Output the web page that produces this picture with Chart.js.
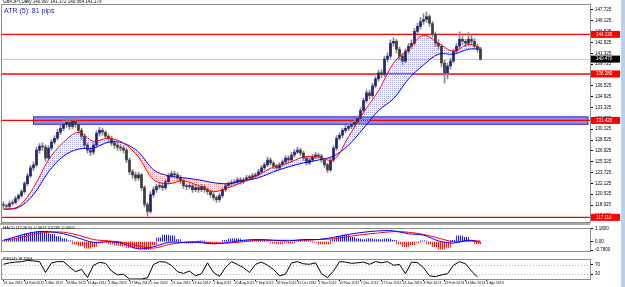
<!DOCTYPE html>
<html><head><meta charset="utf-8">
<script src="https://cdn.jsdelivr.net/npm/chart.js@4.4.0/dist/chart.umd.min.js"></script>
<style>
html,body{margin:0;padding:0;background:#fff;width:625px;height:287px;overflow:hidden;font-family:"Liberation Sans",Arial,sans-serif}
canvas{position:absolute;left:0}
.t{position:absolute;white-space:nowrap;line-height:1}
#hdr{left:3px;top:0px;font-size:4.5px;color:#000}
#atr{left:4px;top:7px;font-size:7px;color:#1a1aa6}
#macdl{left:3px;top:226px;font-size:4px;color:#000}
#rsil{left:3px;top:257px;font-size:4px;color:#000}
#sep1{position:absolute;left:0;top:223px;width:590px;height:2px;background:#a8a8a8}
#strip{position:absolute;left:621px;top:0;width:4px;height:287px;background:#b9d1ea}
</style></head><body>
<canvas id="main" width="625" height="226" style="top:0"></canvas>
<canvas id="macd" width="625" height="31" style="top:224px"></canvas>
<canvas id="rsi" width="625" height="32" style="top:255px"></canvas>
<div id="sep1"></div>
<div id="strip"></div>
<div class="t" id="hdr">GBPJPY,Daily 140.997 141.372 140.564 141.179</div>
<div class="t" id="atr">ATR (5): 81 pips</div>
<div class="t" id="macdl">MACD (12,26,9) -0.0617 0.0285 -0.0902</div>
<div class="t" id="rsil">RSI(14) 18.3364</div>
<script>
// ---------- data ----------
const firstOpen = 119.00;
const closes = [
118.86,118.72,119.16,119.30,119.89,120.32,120.91,122.08,123.24,124.41,
124.85,127.04,127.62,127.50,125.87,127.33,128.21,128.79,129.67,130.25,
130.84,131.13,130.54,131.30,130.84,129.96,129.08,127.77,127.04,126.75,
127.77,129.52,129.96,129.67,129.08,128.79,128.06,127.77,127.48,127.33,
127.04,125.58,123.83,123.39,122.95,123.39,121.49,119.01,117.99,120.47,
121.20,121.64,121.78,121.49,122.37,123.24,123.54,123.39,122.95,122.51,
121.78,121.64,121.78,121.20,121.49,121.20,121.64,121.20,120.91,120.47,
120.03,119.74,120.32,121.20,121.78,122.08,122.22,122.37,122.66,122.37,
122.66,122.95,122.95,123.24,123.39,123.83,124.41,124.85,125.58,125.14,
124.70,124.41,124.85,125.29,125.87,125.58,126.31,126.75,127.04,126.60,
125.87,125.14,125.58,126.02,126.31,126.16,125.58,124.85,124.12,125.58,
127.33,128.79,129.23,129.96,130.25,130.54,130.84,131.13,131.71,132.88,
134.34,135.51,135.07,136.53,137.55,138.43,138.20,140.47,140.91,142.81,
143.10,141.93,140.91,140.18,141.64,142.37,142.81,144.56,145.29,146.02,
146.31,146.75,145.73,144.12,142.81,142.37,139.89,138.43,139.45,140.18,
141.64,142.37,143.39,143.10,142.81,143.39,143.10,142.37,141.93,140.47];
const highs = [
119.40,119.10,119.50,119.70,120.20,120.60,121.20,122.40,123.60,124.80,
125.30,127.50,128.00,128.10,127.80,127.70,128.60,129.20,130.10,130.80,
131.40,131.90,131.60,132.00,131.80,131.20,130.30,129.40,128.10,127.40,
128.10,129.90,130.40,130.30,129.90,129.40,129.10,128.40,128.10,127.90,
127.70,127.30,125.90,124.20,123.80,123.80,123.60,121.80,119.30,120.90,
121.60,122.00,122.20,122.10,122.70,123.60,123.90,123.90,123.70,123.30,
122.80,122.10,122.20,122.00,121.90,121.80,122.00,121.90,121.50,121.20,
120.80,120.30,120.70,121.50,122.10,122.40,122.60,122.70,123.00,123.00,
123.00,123.30,123.30,123.60,123.70,124.20,124.80,125.20,126.00,125.90,
125.40,124.90,125.20,125.60,126.20,126.20,126.70,127.10,127.50,127.30,
126.90,126.10,125.90,126.40,126.70,126.60,126.40,125.80,125.10,125.90,
127.70,129.20,129.60,130.30,130.70,130.90,131.20,131.60,132.10,133.30,
134.70,135.90,135.90,136.90,137.90,138.80,138.90,140.90,141.40,143.30,
143.60,143.40,142.30,141.30,142.00,142.80,143.30,145.00,145.80,146.60,
147.20,147.40,147.00,146.00,144.50,143.30,142.60,140.30,139.90,140.60,
142.00,142.80,144.50,143.90,143.40,144.40,144.00,143.50,142.70,142.20];
const lows = [
118.40,118.30,118.50,118.90,119.10,119.60,120.10,120.70,121.80,123.00,
124.00,124.60,126.60,127.00,125.40,125.60,127.00,127.90,128.50,129.30,
129.90,130.40,130.10,130.20,130.40,129.50,128.60,127.30,126.60,126.20,
126.40,127.50,129.10,129.20,128.70,128.30,127.70,127.30,127.00,126.90,
126.60,125.20,123.40,122.90,122.50,122.60,121.10,118.60,117.30,117.70,
120.10,120.80,121.30,121.10,121.20,122.00,123.00,123.00,122.60,122.10,
121.40,121.20,121.30,120.80,120.90,120.80,120.90,120.80,120.50,120.10,
119.60,119.30,119.40,120.00,120.90,121.50,121.70,121.90,122.10,122.00,
122.10,122.40,122.60,122.70,122.90,123.10,123.60,124.10,124.60,124.80,
124.30,124.00,124.10,124.60,125.00,125.20,125.30,126.00,126.50,126.20,
125.50,124.80,124.90,125.30,125.80,125.80,125.20,124.50,123.70,123.90,
125.30,127.00,128.50,128.90,129.60,129.90,130.20,130.50,130.80,131.40,
132.60,134.00,134.60,134.80,136.20,137.20,137.70,137.90,140.00,140.60,
142.30,141.40,140.40,139.60,139.90,141.30,142.00,142.50,144.20,144.90,
145.60,145.90,145.30,143.70,142.30,141.90,139.30,136.90,137.60,139.00,
139.90,141.30,142.00,142.60,142.30,142.50,142.60,142.00,141.50,140.30];

// moving averages, sampled at these bar numbers
const maBars = [0,5,10,15,20,25,30,35,40,45,50,55,60,65,70,75,80,85,90,95,100,105,110,115,120,125,130,135,140,145,150,155,159];
const maFast = [118.28,118.72,121.49,125.58,128.21,129.67,128.35,128.79,128.06,126.02,122.66,122.08,122.51,121.78,120.91,121.49,122.37,123.39,124.56,125.14,126.02,126.00,125.60,129.00,132.59,135.80,139.89,141.93,143.98,142.81,141.64,142.66,142.08];
const maSlow = [118.28,118.57,120.47,123.83,126.16,127.19,127.33,128.21,128.06,126.75,124.12,123.24,122.95,122.66,122.22,122.08,122.51,122.95,123.83,124.56,125.14,125.58,126.16,127.77,130.25,132.88,134.63,137.55,139.60,141.20,141.20,141.93,141.93];

// MACD histogram (every 2nd bar) and lines (at maBars)
const macdHist = [
0.07,0.13,0.27,0.53,0.73,0.87,0.93,0.80,0.67,0.47,
0.27,0.07,-0.2,-0.4,-0.6,-0.47,-0.13,-0.07,-0.2,-0.33,
-0.4,-0.53,-0.6,-0.67,-0.73,-0.27,0.33,0.6,0.53,0.2,
-0.07,-0.13,-0.07,0.07,-0.13,-0.2,-0.07,0.13,0.27,0.27,
0.13,0.07,0.13,0.13,0.07,-0.13,-0.2,-0.07,-0.13,0.07,
0.13,0.07,-0.07,-0.2,-0.2,0.2,0.47,0.6,0.4,0.27,
0.2,0.27,0.2,0.2,0.27,0.13,-0.2,-0.47,-0.27,-0.07,
0.07,-0.2,-0.47,-0.67,-0.53,0.13,0.53,0.4,0.13,-0.2];
const macdMain = [0.13,0.53,0.87,0.93,0.73,0.33,-0.07,0,-0.2,-0.67,-0.47,-0.07,-0.07,-0.07,-0.2,-0.07,0.13,0.2,0.13,0.07,0.2,0.2,0.4,0.67,0.87,1.0,1.0,0.73,0.6,0.07,-0.13,0.13,-0.07];
const macdSignal = [0.13,0.33,0.67,0.87,0.87,0.6,0.2,0.07,-0.07,-0.4,-0.6,-0.27,-0.07,0,-0.13,-0.13,0,0.13,0.13,0.13,0.13,0.2,0.27,0.47,0.67,0.8,0.93,0.87,0.67,0.33,0,0.07,0.07];

// RSI (every 2nd bar)
const rsi = [
71,77,80,82,87,85,82,37,77,82,
82,60,40,50,16,67,79,75,43,27,
30,10,10,10,15,70,82,80,66,40,
33,43,23,32,77,37,21,57,82,70,
57,37,71,80,67,50,23,30,77,82,
73,71,77,32,16,43,82,80,75,77,
80,71,82,77,82,67,70,32,80,78,
57,23,20,27,32,67,82,73,43,18];

// axis labels
const dateLabels = ["26 Jan 2012","14 Feb 2012","6 Mar 2012","26 Mar 2012","16 Apr 2012","1 May 2012","17 May 2012","5 Jun 2012","25 Jun 2012","13 Jul 2012","1 Aug 2012","20 Aug 2012","7 Sep 2012","26 Sep 2012","15 Oct 2012","1 Nov 2012","20 Nov 2012","7 Dec 2012","27 Dec 2012","16 Jan 2013","4 Feb 2013","22 Feb 2013","13 Mar 2013","1 Apr 2013"];
const dateBars = [0,7,14,21,28,35,42,49,56,63,70,77,84,91,98,105,112,119,126,133,140,147,154,161];
const priceTicks = [117.325,118.925,120.525,122.125,123.725,125.325,126.925,128.525,130.125,131.725,133.325,134.925,136.525,138.125,139.725,141.325,142.925,144.525,146.125,147.725];
const macdTicks = [1.18,0,-0.78];
const rsiTicks = [70,30];
const rsiLevels = [70,30];

// drawn objects
const redLevels = [144.12,138.28,131.42,117.11];
const zoneStartBar = 10, zoneTop = 131.95, zoneBottom = 130.85;

// ---------- helpers ----------
function pat(color, w, h){const c=document.createElement('canvas');c.width=w;c.height=h;const g=c.getContext('2d');g.fillStyle=color;g.fillRect(0,0,1,1);return g.createPattern(c,'repeat');}
const blueHatch = pat('#a4a4ff',2,2), redHatch = pat('#ff9c9c',2,2);
const blueStripe = pat('#1010ff',2,1), redStripe = pat('#ff1010',2,1);
const FONT = {family:'"Liberation Sans", Arial, sans-serif', size:4.5};
const xMin=-0.5, xMax=195.5;
const xScale = {type:'linear', min:xMin, max:xMax, display:false, offset:false};
function yCommon(extra){return Object.assign({position:'right', afterFit(s){s.width=35;},
  ticks:{font:FONT,color:'#000',padding:2},
  grid:{drawOnChartArea:false,tickLength:3,color:'#000'}, border:{color:'#808080'}}, extra);}
const frame = {id:'frame', afterDraw(c){const a=c.chartArea,g=c.ctx;g.save();g.strokeStyle='#8c8c8c';g.lineWidth=1;
  g.strokeRect(Math.round(a.left)-0.5,Math.round(a.top)-0.5,Math.round(a.right-a.left)+1,Math.round(a.bottom-a.top)+1);g.restore();}};
const base = {animation:false,responsive:false,maintainAspectRatio:false,events:[],
  plugins:{legend:{display:false},tooltip:{enabled:false}}};

// ---------- main price panel ----------
const fastPts = maBars.map((b,k)=>({x:b,y:maFast[k]}));
const slowPts = maBars.map((b,k)=>({x:b,y:maSlow[k]}));
const mainDeco = {id:'mainDeco',
  beforeDatasetsDraw(c){const {ctx,chartArea:a,scales:{x,y}}=c;ctx.save();
    const zx=x.getPixelForValue(zoneStartBar),zt=y.getPixelForValue(zoneTop),zb=y.getPixelForValue(zoneBottom);
    ctx.fillStyle='rgba(120,120,240,0.85)';ctx.fillRect(zx,zt,a.right-zx-2,zb-zt);
    ctx.strokeStyle='#2a2ad0';ctx.lineWidth=1;ctx.strokeRect(zx,zt,a.right-zx-2,zb-zt);
    const lp=y.getPixelForValue(closes[closes.length-1]);
    ctx.strokeStyle='#c8c8c8';ctx.beginPath();ctx.moveTo(a.left,Math.round(lp)+0.5);ctx.lineTo(a.right,Math.round(lp)+0.5);ctx.stroke();
    ctx.strokeStyle='#ff0000';ctx.lineWidth=1.4;
    redLevels.forEach(v=>{const p=y.getPixelForValue(v);ctx.beginPath();ctx.moveTo(a.left,p);ctx.lineTo(a.right,p);ctx.stroke();});
    ctx.restore();},
  afterDraw(c){const {ctx,chartArea:a,scales:{y}}=c;ctx.save();ctx.font='4.5px "Liberation Sans", Arial';ctx.textBaseline='middle';
    const box=(v,col)=>{const p=y.getPixelForValue(v);ctx.fillStyle=col;ctx.fillRect(a.right+1,p-3.5,29,7);ctx.fillStyle='#fff';ctx.fillText(v.toFixed(3),a.right+6,p);};
    redLevels.forEach(v=>box(v,'#ff0000'));box(closes[closes.length-1],'#000');ctx.restore();}};
new Chart(document.getElementById('main'),{type:'bar',
  data:{datasets:[
    {type:'line',data:fastPts,borderColor:'#ff0000',borderWidth:1,pointRadius:0,tension:0.35,fill:false,order:1},
    {type:'line',data:slowPts,borderColor:'#0000ff',borderWidth:1,pointRadius:0,tension:0.35,fill:false,order:2},
    {data:closes.map((c,i)=>({x:i,y:[i?closes[i-1]:firstOpen,c]})),barThickness:2,minBarLength:1,grouped:false,order:3,
      backgroundColor:ctx=>{const r=ctx.raw;return r&&r.y[1]>=r.y[0]?'#22227a':'#3c3c3c';}},
    {data:closes.map((c,i)=>({x:i,y:[lows[i],highs[i]]})),barThickness:1,grouped:false,order:4,backgroundColor:'#8a8a8a'},
    {type:'line',data:fastPts,borderWidth:0,borderColor:'rgba(0,0,0,0)',pointRadius:0,tension:0.35,order:10,
      fill:{target:1,above:blueHatch,below:redHatch}}
  ]},
  options:Object.assign({},base,{layout:{padding:{left:2,top:3,right:0,bottom:1}},
    scales:{x:xScale,y:yCommon({min:116.53,max:148.5,afterBuildTicks(s){s.ticks=priceTicks.map(v=>({value:v}));},
      ticks:{font:FONT,color:'#000',padding:2,callback:v=>v.toFixed(3)}})}}),
  plugins:[mainDeco,frame]});

// ---------- MACD panel ----------
new Chart(document.getElementById('macd'),{type:'bar',
  data:{datasets:[
    {type:'line',data:maBars.map((b,k)=>({x:b,y:macdMain[k]})),borderColor:'#0000ff',borderWidth:1,pointRadius:0,tension:0.35,order:1},
    {type:'line',data:maBars.map((b,k)=>({x:b,y:macdSignal[k]})),borderColor:'#ff0000',borderWidth:1,pointRadius:0,tension:0.35,order:2},
    {data:macdHist.map((v,k)=>({x:k*2,y:v})),barThickness:6,grouped:false,order:3,
      backgroundColor:ctx=>(ctx.raw&&ctx.raw.y>=0)?blueStripe:redStripe}
  ]},
  options:Object.assign({},base,{layout:{padding:{left:2,top:1,right:0,bottom:0}},
    scales:{x:xScale,y:yCommon({min:-0.8,max:1.2,afterBuildTicks(s){s.ticks=macdTicks.map(v=>({value:v}));},
      ticks:{font:FONT,color:'#000',padding:2,callback:v=>v===0?'0.00':v.toFixed(4)}})}}),
  plugins:[frame]});

// ---------- RSI panel ----------
const rsiDeco = {id:'rsiDeco',beforeDatasetsDraw(c){const {ctx,chartArea:a,scales:{y}}=c;ctx.save();ctx.strokeStyle='#b0b0b0';ctx.setLineDash([1,2]);ctx.lineWidth=1;
  rsiLevels.forEach(v=>{const p=Math.round(y.getPixelForValue(v))+0.5;ctx.beginPath();ctx.moveTo(a.left,p);ctx.lineTo(a.right,p);ctx.stroke();});ctx.restore();}};
new Chart(document.getElementById('rsi'),{type:'line',
  data:{datasets:[{data:rsi.map((v,k)=>({x:k*2,y:v})),borderColor:'#000',borderWidth:1,pointRadius:0,tension:0}]},
  options:Object.assign({},base,{layout:{padding:{left:2,top:1,right:0,bottom:0}},
    scales:{x:{type:'linear',min:xMin,max:xMax,offset:false,position:'bottom',
        afterBuildTicks(s){s.ticks=dateBars.map(v=>({value:v}));},afterFit(s){s.height=8;},
        ticks:{font:{family:FONT.family,size:3.5},color:'#000',align:'start',maxRotation:0,autoSkip:false,padding:0,
          callback:(v,i)=>dateLabels[i]},
        grid:{drawOnChartArea:false,tickLength:2,color:'#000'},border:{color:'#808080'}},
      y:yCommon({min:10,max:90,afterBuildTicks(s){s.ticks=rsiTicks.map(v=>({value:v}));}})}}),
  plugins:[rsiDeco,frame]});
</script>
</body></html>
